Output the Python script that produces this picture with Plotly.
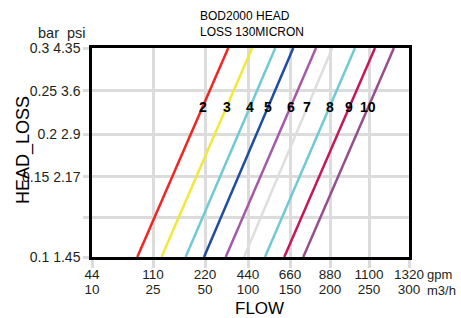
import numpy as np
import plotly.graph_objects as go

# ---- data ----
LINE_NAMES = ["2", "3", "4", "5", "6", "7", "8", "9", "10"]
FLOW_AT_LOW_GPM = [93, 128, 179, 218, 326, 420, 529, 630, 733]     # flow at 0.1 bar
FLOW_AT_HIGH_GPM = [339, 462, 583, 678, 803, 893, 1021, 1133, 1237]  # flow at 0.3 bar
HEAD_LOW_BAR = 0.1
HEAD_HIGH_BAR = 0.3
LABEL_BAR = 0.2315

X_TICK_GPM = [44, 110, 220, 440, 660, 880, 1100, 1320]
X_TICK_M3H = ["10", "25", "50", "100", "150", "200", "250", "300"]
Y_TICK_BAR = [0.1, 0.125, 0.15, 0.2, 0.25, 0.3]
Y_TICK_TEXT = ["0.1 1.45", "", "0.15 2.17", "0.2 2.9", "0.25 3.6", "0.3 4.35"]

COLORS = ["#ee2722", "#f1e83a", "#6fcad6", "#1f4d9f", "#a55aa7",
          "#dedede", "#6fcad6", "#c3195c", "#94508d"]

# ---- chart scale (non-uniform printed grid) ----
X_POS = [0, 61, 113, 156, 198, 238, 277, 317]
Y_POS = [0, 39, 80, 122.7, 166, 208.7]


def xmap(v):
    return np.interp(v, X_TICK_GPM, X_POS)


def ymap(v):
    return np.interp(v, Y_TICK_BAR, Y_POS)


FONT = "Liberation Sans, Arial, sans-serif"
fig = go.Figure()

for name, lo, hi, c in zip(LINE_NAMES, FLOW_AT_LOW_GPM, FLOW_AT_HIGH_GPM, COLORS):
    fig.add_trace(go.Scatter(
        x=[xmap(lo), xmap(hi)], y=[ymap(HEAD_LOW_BAR), ymap(HEAD_HIGH_BAR)],
        mode="lines", line=dict(color=c, width=2.5), showlegend=False,
        hoverinfo="skip"))

# line labels
ly = ymap(LABEL_BAR)
for name, lo, hi in zip(LINE_NAMES, FLOW_AT_LOW_GPM, FLOW_AT_HIGH_GPM):
    y0, y1 = ymap(HEAD_LOW_BAR), ymap(HEAD_HIGH_BAR)
    x0, x1 = xmap(lo), xmap(hi)
    lx = x0 + (ly - y0) / (y1 - y0) * (x1 - x0)
    fig.add_annotation(x=lx, y=ly, text="<b>%s</b>" % name, showarrow=False,
                       font=dict(family=FONT, size=14, color="#000000"),
                       xanchor="center", yanchor="middle")

# second (m3/h) tick row
fig.add_trace(go.Scatter(x=[X_POS[0]], y=[Y_POS[0]], xaxis="x2", mode="markers",
                         marker=dict(opacity=0), showlegend=False, hoverinfo="skip"))

fig.update_layout(
    width=461, height=318,
    margin=dict(l=92, r=52, t=48, b=61.3),
    paper_bgcolor="white", plot_bgcolor="white",
    font=dict(family=FONT, color="#231f20"),
    xaxis=dict(range=[X_POS[0], X_POS[-1]], tickvals=X_POS,
               ticktext=[str(v) for v in X_TICK_GPM],
               showgrid=True, gridcolor="#dcdcdc", gridwidth=2.5,
               showline=True, linecolor="black", linewidth=2.5, mirror=True,
               ticks="", ticklabelstandoff=3,
               minor=dict(tickvals=X_POS, ticks="outside", ticklen=8,
                          tickcolor="#dcdcdc", tickwidth=2.5, showgrid=False),
               tickfont=dict(size=13.5, color="#231f20"), zeroline=False),
    xaxis2=dict(range=[X_POS[0], X_POS[-1]], tickvals=X_POS, ticktext=X_TICK_M3H,
                overlaying="x", anchor="y", side="bottom", showgrid=False,
                showline=False, ticks="", zeroline=False,
                ticklabelstandoff=22,
                tickfont=dict(size=13.5, color="#231f20")),
    yaxis=dict(range=[Y_POS[0], Y_POS[-1]], tickvals=Y_POS, ticktext=Y_TICK_TEXT,
               showgrid=True, gridcolor="#dcdcdc", gridwidth=2.5,
               showline=True, linecolor="black", linewidth=2.5, mirror=True,
               ticks="outside", ticklen=6, tickcolor="#dcdcdc", tickwidth=2.5,
               tickfont=dict(size=14, color="#231f20"), zeroline=False),
)

fig.add_annotation(xref="paper", yref="paper", x=0.334, y=1.115,
                   text="BOD2000 HEAD<br>LOSS 130MICRON", showarrow=False,
                   xanchor="left", yanchor="middle", align="left",
                   font=dict(family=FONT, size=12, color="#000000"))
fig.add_annotation(xref="paper", yref="paper", x=-0.012, y=1.072,
                   text="bar  psi", showarrow=False, xanchor="right", yanchor="middle",
                   font=dict(family=FONT, size=14.5, color="#231f20"))
fig.add_annotation(xref="paper", yref="paper", x=1.05, y=-0.085,
                   text="gpm", showarrow=False, xanchor="left", yanchor="middle",
                   font=dict(family=FONT, size=13, color="#231f20"))
fig.add_annotation(xref="paper", yref="paper", x=1.05, y=-0.158,
                   text="m3/h", showarrow=False, xanchor="left", yanchor="middle",
                   font=dict(family=FONT, size=13, color="#231f20"))
fig.add_annotation(xref="paper", yref="paper", x=0.527, y=-0.246,
                   text="FLOW", showarrow=False, xanchor="center", yanchor="middle",
                   font=dict(family=FONT, size=17, color="#000000"))
fig.add_annotation(xref="paper", yref="paper", x=-0.218, y=0.511,
                   text="HEAD_LOSS", showarrow=False, textangle=-90,
                   xanchor="center", yanchor="middle",
                   font=dict(family=FONT, size=18, color="#000000"))

fig.write_html("out.html", config={"displayModeBar": False},
               post_script="document.body.style.margin='0';document.body.style.padding='0';")
